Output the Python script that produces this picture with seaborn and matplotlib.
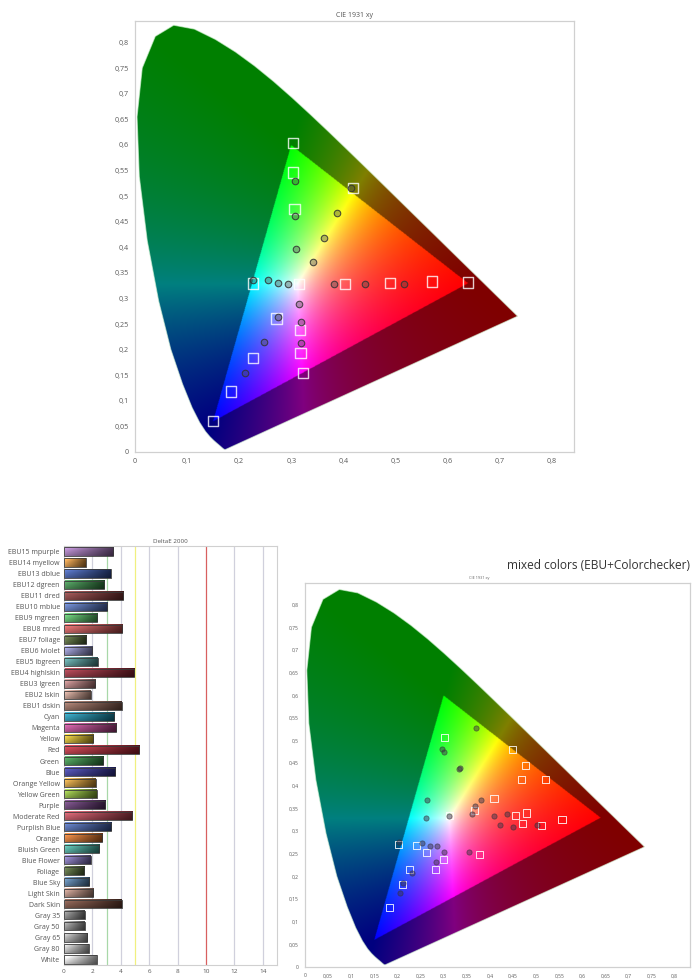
import numpy as np
import pandas as pd
import matplotlib
matplotlib.use("Agg")
import matplotlib.pyplot as plt
import seaborn as sns
from matplotlib.patches import Polygon
from matplotlib.ticker import FuncFormatter

# CIE 1931 2deg spectral locus, 380..700 nm
locus_x = [0.1741, 0.1738, 0.1733, 0.1726, 0.1714, 0.1703, 0.1689, 0.1669, 0.1644, 0.1611,
           0.1566, 0.1510, 0.1440, 0.1355, 0.1241, 0.1096, 0.0913, 0.0687, 0.0454, 0.0235,
           0.0082, 0.0039, 0.0139, 0.0389, 0.0743, 0.1142, 0.1547, 0.1929, 0.2296, 0.2658,
           0.3016, 0.3373, 0.3731, 0.4087, 0.4441, 0.4788, 0.5125, 0.5448, 0.5752, 0.6029,
           0.6270, 0.6482, 0.6658, 0.6801, 0.6915, 0.7006, 0.7079, 0.7140, 0.7190, 0.7230,
           0.7260, 0.7283, 0.7300, 0.7320, 0.7334, 0.7347]
locus_y = [0.0050, 0.0049, 0.0048, 0.0048, 0.0051, 0.0058, 0.0069, 0.0086, 0.0109, 0.0138,
           0.0177, 0.0227, 0.0297, 0.0399, 0.0578, 0.0868, 0.1327, 0.2007, 0.2950, 0.4127,
           0.5384, 0.6548, 0.7502, 0.8120, 0.8338, 0.8262, 0.8059, 0.7816, 0.7543, 0.7243,
           0.6923, 0.6589, 0.6245, 0.5896, 0.5547, 0.5202, 0.4866, 0.4544, 0.4242, 0.3965,
           0.3725, 0.3514, 0.3340, 0.3197, 0.3083, 0.2993, 0.2920, 0.2859, 0.2809, 0.2770,
           0.2740, 0.2717, 0.2700, 0.2680, 0.2666, 0.2653]

# top chart: targets (squares) and measured (circles)
top_tgt_x = [0.303, 0.150, 0.640, 0.315, 0.570, 0.489, 0.403, 0.303, 0.306, 0.419,
             0.227, 0.272, 0.226, 0.184, 0.317, 0.318, 0.323]
top_tgt_y = [0.603, 0.060, 0.331, 0.328, 0.333, 0.330, 0.328, 0.546, 0.475, 0.516,
             0.329, 0.261, 0.184, 0.118, 0.238, 0.194, 0.155]
top_meas_x = [0.307, 0.307, 0.310, 0.415, 0.388, 0.363, 0.341, 0.227, 0.255, 0.275,
              0.294, 0.315, 0.318, 0.318, 0.275, 0.248, 0.211, 0.382, 0.442, 0.516]
top_meas_y = [0.530, 0.461, 0.396, 0.516, 0.467, 0.419, 0.372, 0.336, 0.336, 0.331,
              0.328, 0.289, 0.253, 0.212, 0.264, 0.215, 0.154, 0.328, 0.329, 0.329]

# mixed colors chart
mix_tgt_x = [0.302, 0.448, 0.477, 0.469, 0.520, 0.409, 0.456, 0.480, 0.471, 0.511, 0.556,
             0.312, 0.202, 0.242, 0.262, 0.300, 0.282, 0.377, 0.226, 0.211, 0.182, 0.367]
mix_tgt_y = [0.507, 0.481, 0.445, 0.414, 0.414, 0.373, 0.334, 0.340, 0.316, 0.312, 0.325,
             0.334, 0.270, 0.268, 0.253, 0.237, 0.215, 0.248, 0.215, 0.183, 0.132, 0.345]
mix_meas_x = [0.370, 0.297, 0.300, 0.334, 0.336, 0.264, 0.312, 0.367, 0.381, 0.410, 0.437,
              0.422, 0.451, 0.502, 0.361, 0.261, 0.204, 0.253, 0.271, 0.285, 0.300, 0.283,
              0.354, 0.231, 0.213, 0.206]
mix_meas_y = [0.528, 0.482, 0.475, 0.437, 0.440, 0.369, 0.334, 0.355, 0.368, 0.334, 0.338,
              0.314, 0.309, 0.314, 0.338, 0.329, 0.277, 0.274, 0.268, 0.268, 0.254, 0.231,
              0.255, 0.208, 0.185, 0.163]

# DeltaE 2000 bars
patch_names = ["EBU15 mpurple", "EBU14 myellow", "EBU13 dblue", "EBU12 dgreen", "EBU11 dred",
               "EBU10 mblue", "EBU9 mgreen", "EBU8 mred", "EBU7 foliage", "EBU6 lviolet",
               "EBU5 lbgreen", "EBU4 highlskin", "EBU3 lgreen", "EBU2 lskin", "EBU1 dskin",
               "Cyan", "Magenta", "Yellow", "Red", "Green", "Blue", "Orange Yellow",
               "Yellow Green", "Purple", "Moderate Red", "Purplish Blue", "Orange",
               "Bluish Green", "Blue Flower", "Foliage", "Blue Sky", "Light Skin",
               "Dark Skin", "Gray 35", "Gray 50", "Gray 65", "Gray 80", "White"]
delta_e = [3.46, 1.53, 3.29, 2.82, 4.16, 3.06, 2.35, 4.09, 1.58, 2.00, 2.38, 4.94, 2.19,
           1.88, 4.05, 3.53, 3.69, 2.05, 5.29, 2.75, 3.60, 2.24, 2.31, 2.89, 4.80, 3.32,
           2.71, 2.47, 1.88, 1.44, 1.79, 2.05, 4.05, 1.46, 1.46, 1.62, 1.74, 2.31]
patch_colors = ["#a878c0", "#f0a040", "#3858b0", "#389048", "#8a3838", "#5878c8", "#58c868",
                "#d85858", "#587038", "#9898d8", "#58a8a8", "#a02838", "#c88888", "#d8a898",
                "#986858", "#1898b8", "#c84898", "#e8c828", "#c02838", "#389848", "#3838a8",
                "#e8a838", "#98c838", "#683878", "#c84858", "#4868b8", "#e87828", "#48b8a8",
                "#8878c8", "#587038", "#5888b8", "#c89888", "#784838", "#909090", "#a0a0a0",
                "#b8b8b8", "#d0d0d0", "#f4f4f4"]

grid_pos = [2, 3, 4, 5, 6, 8, 10, 12, 14]
grid_col = ["#d0d0dc", "#a8d8a8", "#d0d0dc", "#f0f080", "#d0d0dc", "#d0d0dc", "#d86060",
            "#d0d0dc", "#d0d0dc"]


def gamut_image(n=800, lim=0.85):
    g = np.linspace(0.0005, lim, n)
    xx, yy = np.meshgrid(g, g)
    X = xx / yy
    Z = (1 - xx - yy) / yy
    M = np.array([[3.2406, -1.5372, -0.4986],
                  [-0.9689, 1.8758, 0.0415],
                  [0.0557, -0.2040, 1.0570]])
    rgb = np.einsum('ij,jhw->hwi', M, np.stack([X, np.ones_like(X), Z]))
    outside = (rgb < 0).any(axis=2)
    rgb = np.clip(rgb, 0, None)
    rgb = rgb / np.maximum(rgb.max(axis=2, keepdims=True), 1e-9)
    rgb[outside] *= 0.5
    return np.clip(rgb, 0, 1)


def comma(v, pos):
    return f"{round(v, 2):g}".replace('.', ',')


def draw_cie(ax, xmax, ymax, xstep, fs):
    img = gamut_image()
    im = ax.imshow(img, extent=[0.0005, 0.85, 0.0005, 0.85], origin='lower',
                   interpolation='bilinear', aspect='auto', zorder=1)
    poly = Polygon(np.column_stack([locus_x, locus_y]), closed=True,
                   facecolor='none', edgecolor=(0.85, 0.97, 0.85, 0.6), linewidth=0.8,
                   zorder=2)
    ax.add_patch(poly)
    im.set_clip_path(poly)
    ax.set_xticks(np.round(np.arange(0, 0.8001, xstep), 2))
    ax.set_yticks(np.round(np.arange(0, 0.8001, 0.05), 2))
    ax.xaxis.set_major_formatter(FuncFormatter(comma))
    ax.yaxis.set_major_formatter(FuncFormatter(comma))
    ax.set_xlim(0, xmax)
    ax.set_ylim(0, ymax)
    ax.tick_params(axis='both', labelsize=fs, colors='#5a5a5a', length=3, width=0.6,
                   direction='out', pad=1.5)
    for sp in ax.spines.values():
        sp.set_color('#d0d0d0')
        sp.set_linewidth(0.9)


sns.set_style("white")
plt.rcParams['font.family'] = ['Open Sans', 'DejaVu Sans']

fig = plt.figure(figsize=(6.92, 9.8), dpi=100)
ax1 = fig.add_axes([135 / 692, 1 - 452 / 980, 439 / 692, 431 / 980])
ax2 = fig.add_axes([64 / 692, 1 - 965 / 980, 213 / 692, 419 / 980])
ax3 = fig.add_axes([305 / 692, 1 - 967 / 980, 385 / 692, 384 / 980])

# top chart
draw_cie(ax1, 0.843, 0.842, 0.1, 5.2)
sns.scatterplot(x=top_tgt_x, y=top_tgt_y, marker='s', s=55, facecolor='none',
                edgecolor=(1, 1, 1, 0.8), linewidth=1.0, ax=ax1, zorder=3)
sns.scatterplot(x=top_meas_x, y=top_meas_y, marker='o', s=22, facecolor=(0.3, 0.3, 0.3, 0.4),
                edgecolor=(0.2, 0.2, 0.2, 0.85), linewidth=0.8, ax=ax1, zorder=4)
ax1.set_title("CIE 1931 xy", fontsize=5, color='#555555', pad=3)

# bottom right chart
draw_cie(ax3, 0.833, 0.848, 0.05, 3.6)
sns.scatterplot(x=mix_tgt_x, y=mix_tgt_y, marker='s', s=26, facecolor='none',
                edgecolor=(1, 1, 1, 0.85), linewidth=0.7, ax=ax3, zorder=3)
sns.scatterplot(x=mix_meas_x, y=mix_meas_y, marker='o', s=14, facecolor=(0.25, 0.2, 0.3, 0.5),
                edgecolor=(0.2, 0.2, 0.2, 0.6), linewidth=0.6, ax=ax3, zorder=4)
fig.text(690 / 692, 1 - 565 / 980, "mixed colors (EBU+Colorchecker)", ha='right', va='center',
         fontsize=8.6, color='#333333')
fig.text(469 / 692, 1 - 578 / 980, "CIE 1931 xy", ha='left', va='center', fontsize=2.8,
         color='#666666')

# bar chart
df = pd.DataFrame({"patch": patch_names, "dE": delta_e})
for p, c in zip(grid_pos, grid_col):
    ax2.axvline(p, color=c, linewidth=0.9, zorder=0)
sns.barplot(data=df, x="dE", y="patch", hue="patch", palette=patch_colors, legend=False,
            orient='h', width=0.74, ax=ax2, zorder=2)
gloss = np.array([1.18, 1.1, 1.02, 0.96, 0.9, 0.82])[:, None, None]
tt = np.linspace(0, 1, 64)[None, :, None]
for patch, col in zip(ax2.patches, patch_colors):
    base = np.array(matplotlib.colors.to_rgb(col))
    left = base * 0.85 + 0.15
    right = base * 0.38
    grad = np.clip((left * (1 - tt) + right * tt) * gloss, 0, 1)
    x0, y0, w, h = patch.get_x(), patch.get_y(), patch.get_width(), patch.get_height()
    ax2.imshow(grad, extent=[x0, x0 + w, y0, y0 + h], origin='lower', aspect='auto',
               interpolation='bilinear', zorder=2)
    patch.set_facecolor('none')
    patch.set_edgecolor('#3a3a3a')
    patch.set_linewidth(0.6)
    patch.set_zorder(3)
ax2.set_xlim(0, 15)
ax2.set_ylim(len(patch_names) - 0.5, -0.5)
ax2.set_xticks(range(0, 15, 2))
ax2.set_xlabel("")
ax2.set_ylabel("")
ax2.tick_params(axis='y', labelsize=5, colors='#555555', length=2, width=0.5, pad=1)
ax2.tick_params(axis='x', labelsize=4.6, colors='#555555', length=2, width=0.5, pad=1)
ax2.set_title("DeltaE 2000", fontsize=4.5, color='#555555', pad=2)
for sp in ax2.spines.values():
    sp.set_color('#d0d0d0')
    sp.set_linewidth(0.8)

fig.savefig("out.png", dpi=100)
